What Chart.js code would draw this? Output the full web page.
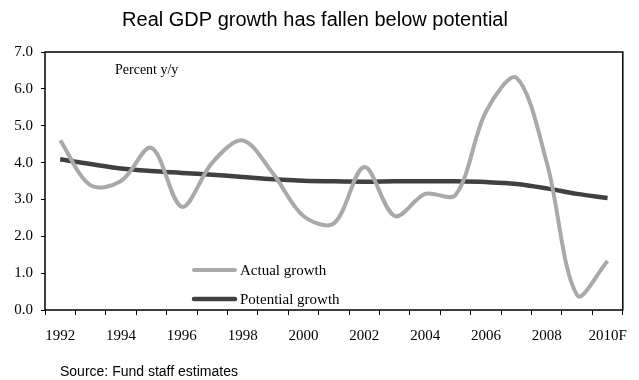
<!DOCTYPE html>
<html>
<head>
<meta charset="utf-8">
<title>Real GDP growth</title>
<script src="https://cdn.jsdelivr.net/npm/chart.js@4.4.0/dist/chart.umd.min.js"></script>
<style>
  html, body { margin: 0; padding: 0; background: #fff; }
  #wrap { width: 639px; height: 380px; position: relative; }
</style>
</head>
<body>
<div id="wrap"><canvas id="gdpChart" width="639" height="380"></canvas></div>
<script>
var years = ['1992', '1993', '1994', '1995', '1996', '1997', '1998', '1999', '2000', '2001',
             '2002', '2003', '2004', '2005', '2006', '2007', '2008', '2009', '2010F'];
var actualGrowth = [4.6, 3.38, 3.5, 4.4, 2.8, 4.0, 4.6, 3.7, 2.55, 2.35,
                    3.88, 2.55, 3.15, 3.12, 5.38, 6.3, 4.0, 0.4, 1.33];
var potentialGrowth = [4.09, 3.96, 3.84, 3.77, 3.72, 3.67, 3.61, 3.55, 3.51, 3.49,
                       3.48, 3.49, 3.49, 3.49, 3.47, 3.42, 3.3, 3.15, 3.04];
var yTicks = [0, 1, 2, 3, 4, 5, 6, 7];

var serif = '"Liberation Serif", "Times New Roman", serif';
var sans = '"Liberation Sans", Arial, sans-serif';

// box around the plot, legend inside it, unit note and source line
var decorations = {
    id: 'decorations',
    afterDatasetsDraw: function (chart) {
        var ctx = chart.ctx;
        var area = chart.chartArea;
        ctx.save();
        ctx.strokeStyle = '#000';
        ctx.lineWidth = 1.5;
        ctx.strokeRect(area.left, area.top, area.right - area.left, area.bottom - area.top);

        ctx.fillStyle = '#000';
        ctx.font = '14px ' + serif;
        ctx.textBaseline = 'middle';
        ctx.fillText('Percent y/y', area.left + 70, area.top + 18);

        chart.data.datasets.forEach(function (ds, i) {
            var y = area.top + 218 + i * 29;
            ctx.strokeStyle = ds.borderColor;
            ctx.lineWidth = ds.borderWidth;
            ctx.lineCap = 'round';
            ctx.beginPath();
            ctx.moveTo(area.left + 149, y);
            ctx.lineTo(area.left + 190, y);
            ctx.stroke();
            ctx.fillStyle = '#000';
            ctx.font = '15px ' + serif;
            ctx.fillText(ds.label, area.left + 195, y + 1);
        });

        ctx.font = '14px ' + sans;
        ctx.fillText('Source: Fund staff estimates', 60, 372);
        ctx.restore();
    }
};

window.onload = function () {
    var config = {
        type: 'line',
        data: {
            labels: years,
            datasets: [{
                label: 'Actual growth',
                data: actualGrowth,
                borderColor: '#a9a9a9',
                borderWidth: 4,
                pointRadius: 0,
                tension: 0.33,
                fill: false
            }, {
                label: 'Potential growth',
                data: potentialGrowth,
                borderColor: '#404040',
                borderWidth: 4.5,
                pointRadius: 0,
                tension: 0.33,
                fill: false
            }]
        },
        options: {
            responsive: false,
            animation: false,
            layout: { padding: { left: 0, right: 9, top: 0, bottom: 30 } },
            plugins: {
                legend: { display: false },
                tooltip: { enabled: false },
                title: {
                    display: true,
                    text: 'Real GDP growth has fallen below potential',
                    color: '#000',
                    font: { family: sans, size: 20, weight: 'normal' },
                    padding: { top: 8, bottom: 20 }
                }
            },
            scales: {
                x: {
                    offset: true,
                    afterFit: function (scale) { scale.height = 40; },
                    border: { display: false },
                    grid: {
                        offset: true,
                        drawOnChartArea: false,
                        drawTicks: true,
                        tickLength: 5,
                        color: '#000',
                        lineWidth: 1
                    },
                    ticks: {
                        autoSkip: false,
                        maxRotation: 0,
                        padding: 12,
                        color: '#000',
                        font: { family: serif, size: 15 },
                        callback: function (value, index) {
                            return index % 2 === 0 ? years[index] : '';
                        }
                    }
                },
                y: {
                    min: yTicks[0],
                    max: yTicks[yTicks.length - 1],
                    afterFit: function (scale) { scale.width = 45; },
                    afterBuildTicks: function (scale) {
                        scale.ticks = yTicks.map(function (v) { return { value: v }; });
                    },
                    border: { display: false },
                    grid: {
                        drawOnChartArea: false,
                        drawTicks: true,
                        tickLength: 4,
                        color: '#000'
                    },
                    ticks: {
                        padding: 8,
                        color: '#000',
                        font: { family: serif, size: 15 },
                        callback: function (value) { return value.toFixed(1); }
                    }
                }
            }
        },
        plugins: [decorations]
    };

    var ctx = document.getElementById('gdpChart').getContext('2d');
    window.gdpChart = new Chart(ctx, config);
};
</script>
</body>
</html>
